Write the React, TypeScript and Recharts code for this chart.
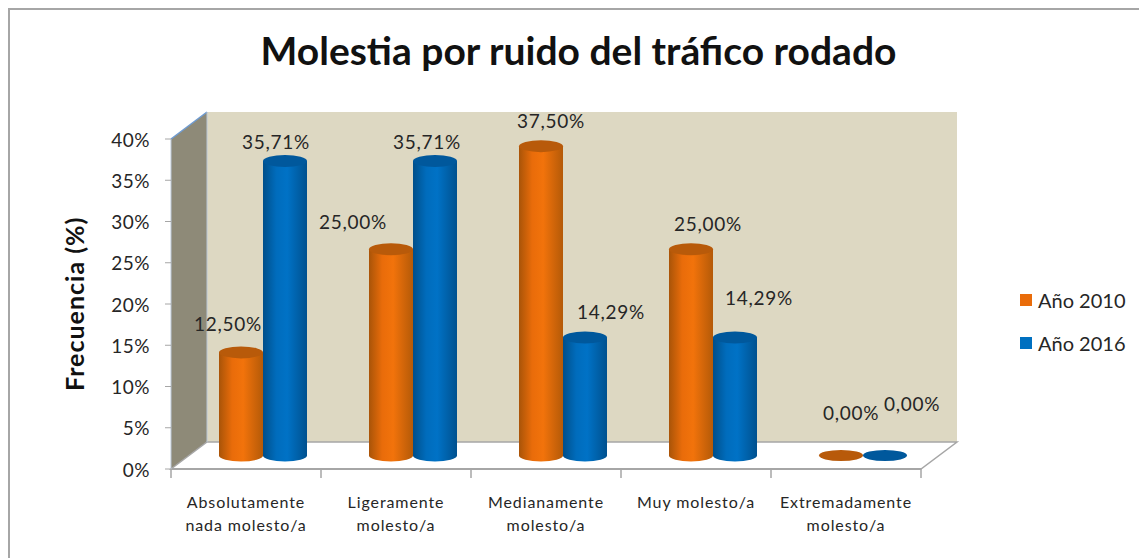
import { Bar, BarChart, LabelList, Legend, XAxis, YAxis, usePlotArea } from "recharts";

const categories = [
  "Absolutamente\nnada molesto/a",
  "Ligeramente\nmolesto/a",
  "Medianamente\nmolesto/a",
  "Muy molesto/a",
  "Extremadamente\nmolesto/a",
];
const values2010 = [12.5, 25, 37.5, 25, 0];
const values2016 = [35.71, 35.71, 14.29, 14.29, 0];
const yTicks = [0, 5, 10, 15, 20, 25, 30, 35, 40];

const data = categories.map((name, i) => ({
  name,
  y2010: values2010[i],
  y2016: values2016[i],
}));

// hand placed labels, same as the original chart (dx from bar centre, dy from value point)
const labelOffsets2010 = [
  [-14, -35],
  [-39, -34],
  [9, -32],
  [16, -32],
  [9, -49],
];
const labelOffsets2016 = [
  [-10, -25],
  [-9, -25],
  [25, -32],
  [23, -46],
  [26, -58],
];

const CHART_W = 1139;
const CHART_H = 558;
const DEPTH_X = 36;
const DEPTH_Y = 27;
const BAR_SHIFT_X = 17;
const FONT = "Lato, sans-serif";

function Walls() {
  const plot = usePlotArea();
  if (!plot) return null;
  const { x, y, width, height } = plot;
  const b = y + height;
  const r = x + width;
  return (
    <g>
      <polygon
        points={`${x + DEPTH_X},${y - DEPTH_Y} ${r + DEPTH_X},${y - DEPTH_Y} ${r + DEPTH_X},${b - DEPTH_Y} ${x + DEPTH_X},${b - DEPTH_Y}`}
        fill="#ddd8c2"
      />
      <polygon
        points={`${x},${y} ${x + DEPTH_X},${y - DEPTH_Y} ${x + DEPTH_X},${b - DEPTH_Y} ${x},${b}`}
        fill="#8e8a78"
      />
      <polygon
        points={`${x},${b} ${x + DEPTH_X},${b - DEPTH_Y} ${r + DEPTH_X},${b - DEPTH_Y} ${r},${b}`}
        fill="#ffffff"
        stroke="#a6a6a6"
        strokeWidth={1.5}
      />
      <line x1={x} y1={y} x2={x + DEPTH_X} y2={y - DEPTH_Y} stroke="#6f9bd1" strokeWidth={1.5} />
      <line x1={x + DEPTH_X} y1={y - DEPTH_Y} x2={x + DEPTH_X} y2={b - DEPTH_Y} stroke="#b9c6d6" />
    </g>
  );
}

function Cylinder(props: any) {
  const { x, y, width, height, gradient, top } = props;
  const rx = width / 2;
  const ry = 6;
  const cx = x + BAR_SHIFT_X;
  const topY = y - DEPTH_Y / 2;
  const baseY = topY + height;
  return (
    <g>
      {height > 0 && (
        <path
          d={`M${cx},${topY} L${cx},${baseY} A${rx},${ry} 0 0 0 ${cx + width},${baseY} L${cx + width},${topY} Z`}
          fill={`url(#${gradient})`}
        />
      )}
      <ellipse cx={cx + rx} cy={topY} rx={rx} ry={height > 0 ? ry : 5.5} fill={top} />
    </g>
  );
}

function makeLabel(offsets: number[][]) {
  return function BarLabel(props: any) {
    const { x, y, width, value, index } = props;
    const [dx, dy] = offsets[index];
    return (
      <text
        x={x + width / 2 + DEPTH_X / 2 + dx}
        y={y + dy}
        textAnchor="middle"
        fontFamily={FONT}
        fontSize={19}
        letterSpacing={0.7}
        fill="#262626"
      >
        {value.toFixed(2).replace(".", ",")}%
      </text>
    );
  };
}

function CategoryTick(props: any) {
  const { x, y, payload, index } = props;
  const step = (CHART_W - 171 - 218) / categories.length;
  const lines = String(payload.value).split("\n");
  return (
    <g>
      <line x1={x - step / 2} y1={y - 8} x2={x - step / 2} y2={y + 1} stroke="#a6a6a6" strokeWidth={1.5} />
      {index === categories.length - 1 && (
        <line x1={x + step / 2} y1={y - 8} x2={x + step / 2} y2={y + 1} stroke="#a6a6a6" strokeWidth={1.5} />
      )}
      {lines.map((line, i) => (
        <text
          key={line}
          x={x}
          y={y + 31 + i * 23}
          textAnchor="middle"
          fontFamily={FONT}
          fontSize={16}
          letterSpacing={0.9}
          fill="#262626"
        >
          {line}
        </text>
      ))}
    </g>
  );
}

function LegendBox({ payload }: any) {
  return (
    <div style={{ fontFamily: FONT, fontSize: 20, color: "#262626" }}>
      {payload.map((item: any) => (
        <div key={item.value} style={{ display: "flex", alignItems: "center", height: 43 }}>
          <span style={{ width: 12, height: 12, background: item.color, marginRight: 6 }} />
          {item.value}
        </div>
      ))}
    </div>
  );
}

export default function App() {
  return (
    <div
      style={{
        position: "absolute",
        left: 0,
        top: 0,
        width: CHART_W,
        height: CHART_H,
        overflow: "hidden",
        background: "#fff",
      }}
    >
      <div
        style={{
          position: "absolute",
          left: 8,
          top: 8,
          width: 1200,
          height: 700,
          border: "2px solid #a6a6a6",
        }}
      />
      <div
        style={{
          position: "absolute",
          left: 0,
          top: 27,
          width: 1157,
          textAlign: "center",
          fontFamily: FONT,
          fontWeight: 700,
          fontSize: 39,
          color: "#111",
        }}
      >
        Molestia por ruido del tráfico rodado
      </div>
      <BarChart
        width={CHART_W}
        height={CHART_H}
        data={data}
        barSize={44}
        barGap={0}
        margin={{ top: 139, right: 99, bottom: 29, left: 111 }}
        style={{ position: "absolute", left: 0, top: 0 }}
      >
        <defs>
          <linearGradient id="orangeBody" x1="0" y1="0" x2="1" y2="0">
            <stop offset="0" stopColor="#a95408" />
            <stop offset="0.3" stopColor="#e96c0a" />
            <stop offset="0.55" stopColor="#f2730b" />
            <stop offset="1" stopColor="#b45a08" />
          </linearGradient>
          <linearGradient id="blueBody" x1="0" y1="0" x2="1" y2="0">
            <stop offset="0" stopColor="#004f8a" />
            <stop offset="0.3" stopColor="#006cbc" />
            <stop offset="0.55" stopColor="#0072c6" />
            <stop offset="1" stopColor="#00518f" />
          </linearGradient>
        </defs>
        <Walls />
        <XAxis
          dataKey="name"
          height={60}
          interval={0}
          tickLine={false}
          axisLine={{ stroke: "#a6a6a6", strokeWidth: 2 }}
          tick={<CategoryTick />}
        />
        <YAxis
          domain={[0, 40]}
          ticks={yTicks}
          width={60}
          tickSize={6}
          tickMargin={15}
          tickFormatter={(v: number) => `${v}%`}
          tick={{ fontFamily: FONT, fontSize: 19, letterSpacing: 0.5, fill: "#262626", dy: 1 }}
          tickLine={{ stroke: "#a6a6a6" }}
          axisLine={{ stroke: "#b9c6d6" }}
          label={{
            value: "Frecuencia (%)",
            angle: -90,
            position: "insideLeft",
            dx: -41,
            dy: 87,
            style: { fontFamily: FONT, fontWeight: 700, fontSize: 25, letterSpacing: 1, fill: "#111" },
          }}
        />
        <Legend
          layout="vertical"
          align="right"
          verticalAlign="top"
          wrapperStyle={{ left: 1020, top: 278, width: 119 }}
          content={<LegendBox />}
        />
        <Bar
          dataKey="y2010"
          name="Año 2010"
          fill="#e96c0a"
          isAnimationActive={false}
          shape={<Cylinder gradient="orangeBody" top="#b85a0a" />}
        >
          <LabelList dataKey="y2010" content={makeLabel(labelOffsets2010)} />
        </Bar>
        <Bar
          dataKey="y2016"
          name="Año 2016"
          fill="#0070c0"
          isAnimationActive={false}
          shape={<Cylinder gradient="blueBody" top="#00589c" />}
        >
          <LabelList dataKey="y2016" content={makeLabel(labelOffsets2016)} />
        </Bar>
      </BarChart>
    </div>
  );
}
